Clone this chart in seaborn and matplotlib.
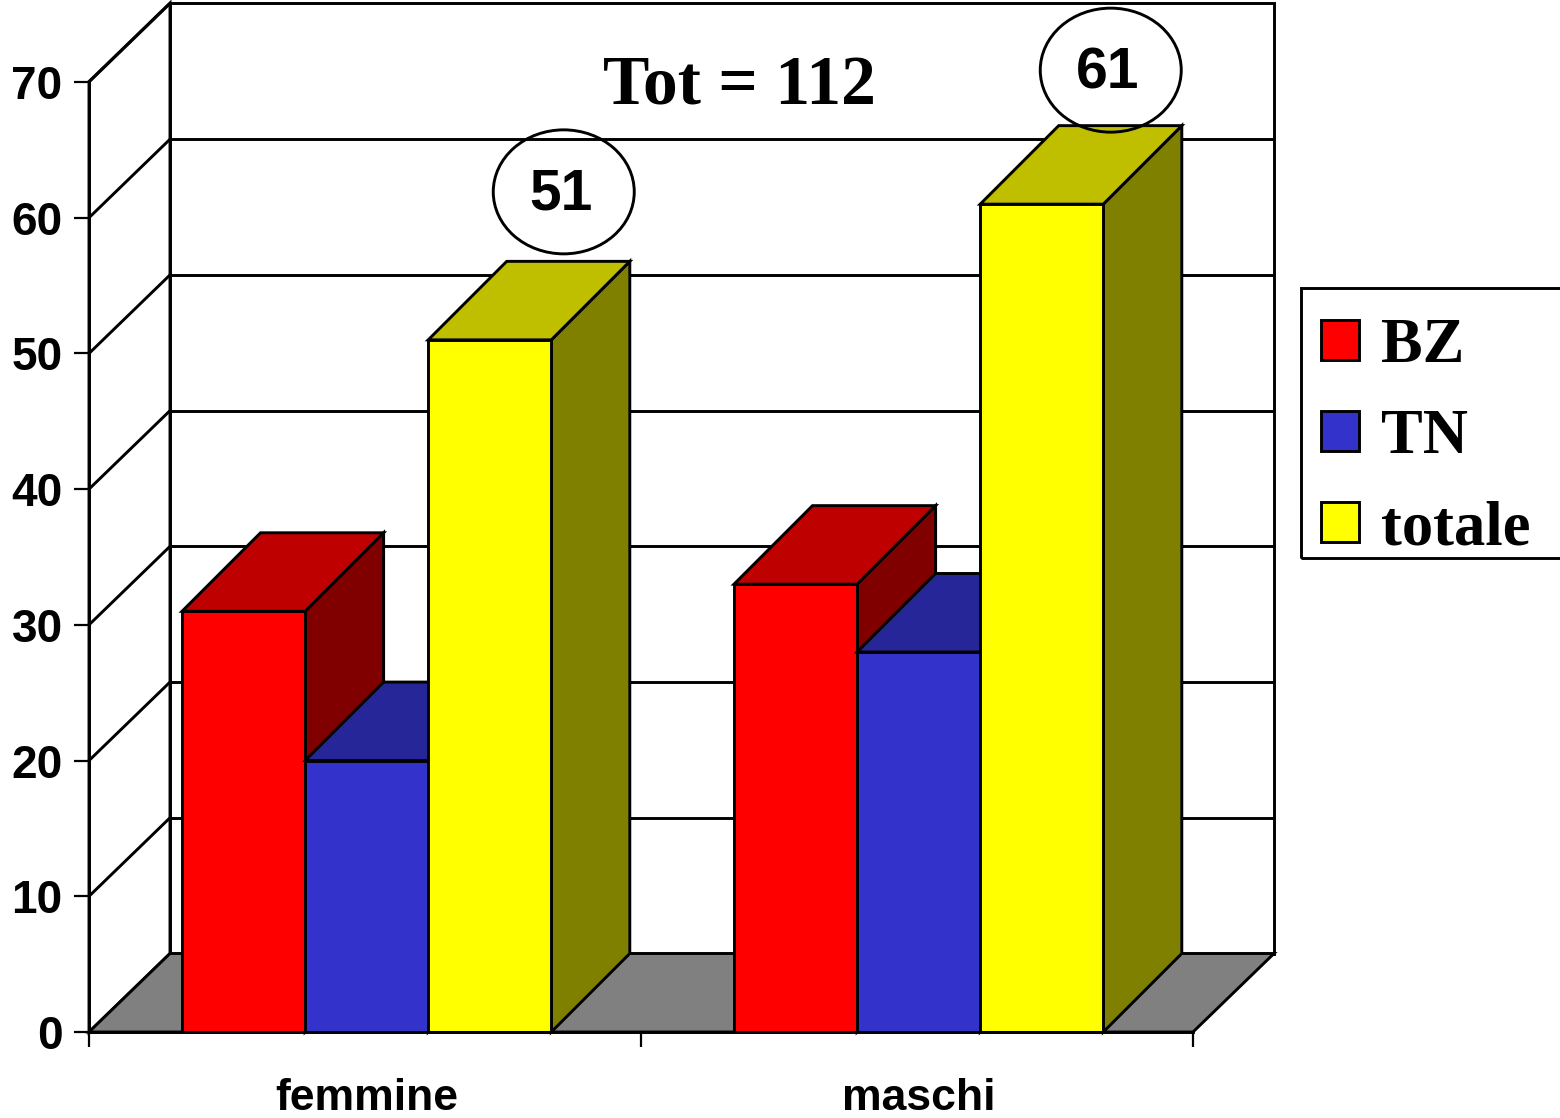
import matplotlib
matplotlib.use("Agg")
import matplotlib.pyplot as plt
from matplotlib.patches import Polygon, Ellipse, Rectangle
import pandas as pd
import seaborn as sns

categories = ["femmine", "maschi"]
series_names = ["BZ", "TN", "totale"]
bz_values = [31, 33]
tn_values = [20, 28]
totale_values = [51, 61]
y_ticks = [0, 10, 20, 30, 40, 50, 60, 70]
annotation = "Tot = 112"

front_colors = ["#ff0000", "#3333cc", "#ffff00"]
top_colors = ["#bf0000", "#262699", "#bfbf00"]
side_colors = ["#800000", "#1a1a66", "#808000"]

W, H = 1560, 1118
# plot box in pixels, the rest of the 3D look is offset from it
LEFT, RIGHT, BOTTOM, TOP = 89, 1193, 1032, 82
DEPTH_X, DEPTH_Y = 81, 78.5
BAR_DEPTH_X = 78.5
LW = 2.1
# bubble centre relative to the middle of the yellow bar's top edge, in pixels
BUBBLE_OFFSETS = [(74, 148), (69, 134)]

sns.set_theme(style="white")
plt.rcParams["font.family"] = ["Liberation Sans", "DejaVu Sans"]

df = pd.DataFrame({
    "group": categories * 3,
    "series": [n for n in series_names for _ in categories],
    "count": bz_values + tn_values + totale_values,
})

fig = plt.figure(figsize=(W / 100, H / 100), dpi=100, facecolor="white")
ax = fig.add_axes([LEFT / W, (H - BOTTOM) / H, (RIGHT - LEFT) / W, (BOTTOM - TOP) / H])
ax.patch.set_alpha(0)

sns.barplot(data=df, x="group", y="count", hue="series", hue_order=series_names,
            palette=front_colors, width=0.669, gap=0, saturation=1,
            edgecolor="black", linewidth=LW, ax=ax, legend=False)

# small shift so the bars land where they do in the original
ax.set_xlim(-0.503, 1.497)
ax.set_ylim(0, 70)
px_x = 2 / (RIGHT - LEFT)
px_y = 70 / (BOTTOM - TOP)
dx = DEPTH_X * px_x
dy = DEPTH_Y * px_y
bar_dx = BAR_DEPTH_X * px_x
x0, x1 = ax.get_xlim()
top_wall = 70 + (TOP - 3 - DEPTH_Y) * px_y


def poly(points, color, z):
    ax.add_patch(Polygon(points, closed=True, facecolor=color, edgecolor="black",
                         linewidth=LW, zorder=z, clip_on=False, joinstyle="miter"))


# back wall, side wall and floor
poly([(x0 + dx, dy), (x1 + dx, dy), (x1 + dx, top_wall + dy), (x0 + dx, top_wall + dy)], "white", 0.5)
poly([(x0, 0), (x0 + dx, dy), (x0 + dx, top_wall + dy), (x0, top_wall)], "white", 0.6)
poly([(x0, 0), (x1, 0), (x1 + dx, dy), (x0 + dx, dy)], "#808080", 0.7)

for tick in y_ticks[1:]:
    if tick < 70:
        ax.plot([x0 + dx, x1 + dx], [tick + dy, tick + dy], color="black", lw=LW, zorder=0.8, clip_on=False)
    ax.plot([x0, x0 + dx], [tick, tick + dy], color="black", lw=LW, zorder=0.8, clip_on=False)

# seaborn draws the front faces, depth faces are built from those bars
for i, container in enumerate(ax.containers):
    for bar in container:
        left, right, h = bar.get_x(), bar.get_x() + bar.get_width(), bar.get_height()
        z = 2 + i
        poly([(right, 0), (right + bar_dx, dy), (right + bar_dx, h + dy), (right, h)], side_colors[i], z)
        poly([(left, h), (right, h), (right + bar_dx, h + dy), (left + bar_dx, h + dy)], top_colors[i], z)
        bar.set_zorder(z + 0.5)

# circled totals sit above the yellow bars
for bar, value, (off_x, off_y) in zip(ax.containers[2], totale_values, BUBBLE_OFFSETS):
    cx = bar.get_x() + bar.get_width() / 2 + off_x * px_x
    cy = bar.get_height() + off_y * px_y
    ax.add_patch(Ellipse((cx, cy), 141 * px_x, 124 * px_y, facecolor="none", edgecolor="black",
                         linewidth=LW, zorder=8, clip_on=False))
    ax.text(cx - 3 * px_x, cy - 3 * px_y, str(value), ha="center", va="center", fontsize=41,
            fontweight="bold", color="black", zorder=9)

ax.text(0.676, 69.6, annotation, ha="center", va="center", fontsize=50, fontweight="bold",
        family="Liberation Serif", color="black", zorder=9)

for side in ["top", "right"]:
    ax.spines[side].set_visible(False)
for side in ["left", "bottom"]:
    ax.spines[side].set_linewidth(LW)
    ax.spines[side].set_color("black")
    ax.spines[side].set_zorder(7)

ax.set_xlabel("")
ax.set_ylabel("")
ax.set_yticks(y_ticks)
ax.set_yticklabels([str(t) for t in y_ticks], fontsize=33, fontweight="bold", color="black")
ax.tick_params(axis="y", left=True, length=11, width=1.6, pad=8, color="black")
ax.set_xticks([x0, x0 + 1, x0 + 2], minor=True)
ax.set_xticks([0, 1])
ax.set_xticklabels(categories, fontsize=32, fontweight="bold", color="black")
ax.tick_params(axis="x", which="major", bottom=False, pad=27)
ax.tick_params(axis="x", which="minor", bottom=True, length=11, width=1.6, color="black")

# legend box runs off the right edge, so the frame is drawn on its own
fig.add_artist(Rectangle((1301 / W, (H - 558) / H), 300 / W, 270 / H, transform=fig.transFigure,
                         facecolor="none", edgecolor="black", linewidth=LW, zorder=-1))
handles = [c.patches[0] for c in ax.containers]
leg = ax.legend(handles, series_names, loc="upper left",
                bbox_to_anchor=(1321 / W, 1 - 318 / H), bbox_transform=fig.transFigure,
                prop={"family": "Liberation Serif", "weight": "bold", "size": 45},
                labelcolor="black", frameon=False, borderaxespad=0, borderpad=0,
                labelspacing=0.53, handlelength=0.6, handleheight=0.6, handletextpad=0.36)
leg.set_zorder(10)

fig.savefig("out.png", dpi=100)
